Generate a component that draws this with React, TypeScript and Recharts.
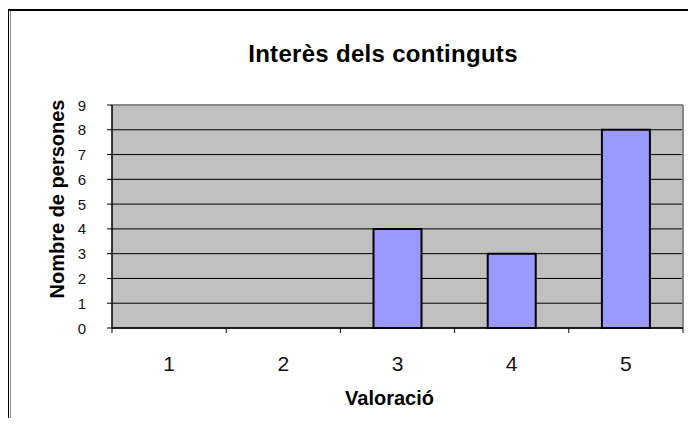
import { BarChart, Bar, XAxis, YAxis, CartesianGrid } from 'recharts';

const categories = ['1', '2', '3', '4', '5'];
const persones = [0, 0, 4, 3, 8];
const yTicks = [0, 1, 2, 3, 4, 5, 6, 7, 8, 9];

const data = categories.map((c, i) => ({ name: c, persones: persones[i] }));

const W = 696;
const H = 426;
const PLOT_LEFT = 112;
const PLOT_RIGHT = 683;
const PLOT_TOP = 105;
const PLOT_BOTTOM = 328;
const FONT = '"Liberation Sans", Arial, sans-serif';

const XTick = (props: any) => {
  const { x, y, index } = props;
  const bw = (PLOT_RIGHT - PLOT_LEFT) / categories.length;
  const left = x - bw / 2;
  return (
    <g>
      <line x1={left} y1={y} x2={left} y2={y + 5} stroke="#000" strokeWidth={1} />
      {index === categories.length - 1 && (
        <line x1={left + bw} y1={y} x2={left + bw} y2={y + 5} stroke="#000" strokeWidth={1} />
      )}
      <text x={x} y={y + 43} textAnchor="middle" fontSize={21} fill="#111" fontFamily={FONT}>
        {props.payload.value}
      </text>
    </g>
  );
};

const YTick = (props: any) => {
  const { x, y, payload } = props;
  return (
    <text x={x - 19} y={y} textAnchor="end" dominantBaseline="central" fontSize={15} fill="#111" fontFamily={FONT}>
      {payload.value}
    </text>
  );
};

export default function App() {
  return (
    <div style={{ position: 'relative', width: W, height: H, margin: -8, background: '#fff', overflow: 'hidden' }}>
      <div
        style={{
          position: 'absolute',
          left: 7,
          top: 9,
          width: 720,
          height: 440,
          borderTop: '2px solid #000',
          borderLeft: '2px solid #000',
        }}
      />
      <div style={{ position: 'absolute', left: 10, top: 11, width: 1, height: 420, background: '#909090' }} />
      <div style={{ position: 'absolute', left: 0, top: 0 }}>
        <BarChart
          width={W}
          height={H}
          data={data}
          margin={{ top: PLOT_TOP, right: W - PLOT_RIGHT, bottom: 0, left: 0 }}
          barCategoryGap="29%"
        >
          <CartesianGrid vertical={false} stroke="#000" strokeWidth={1} fill="#C0C0C0" />
          <CartesianGrid horizontal={false} verticalPoints={[PLOT_RIGHT]} stroke="#888" strokeWidth={2} />
          <CartesianGrid vertical={false} horizontalPoints={[PLOT_TOP]} stroke="#888" strokeWidth={2} />
          <XAxis
            dataKey="name"
            height={H - PLOT_BOTTOM}
            tickLine={false}
            tickSize={0}
            tickMargin={0}
            axisLine={{ stroke: '#000', strokeWidth: 1.5 }}
            tick={<XTick />}
            interval={0}
          />
          <YAxis
            width={PLOT_LEFT}
            domain={[0, 9]}
            ticks={yTicks}
            interval={0}
            tickSize={5}
            tickLine={{ stroke: '#000' }}
            axisLine={{ stroke: '#000', strokeWidth: 1.5 }}
            tick={<YTick />}
          />
          <Bar dataKey="persones" fill="#9999FF" stroke="#000" strokeWidth={2} isAnimationActive={false} />
          <text x={383} y={62} textAnchor="middle" fontSize={24} fontWeight="bold" letterSpacing={0.3} fontFamily={FONT} fill="#000">
            Interès dels continguts
          </text>
          <text
            x={64}
            y={199}
            transform="rotate(-90 64 199)"
            textAnchor="middle"
            fontSize={20}
            fontWeight="bold"
            fontFamily={FONT}
            fill="#000"
          >
            Nombre de persones
          </text>
          <text x={389.5} y={405} textAnchor="middle" fontSize={20} fontWeight="bold" fontFamily={FONT} fill="#000">
            Valoració
          </text>
        </BarChart>
      </div>
    </div>
  );
}
